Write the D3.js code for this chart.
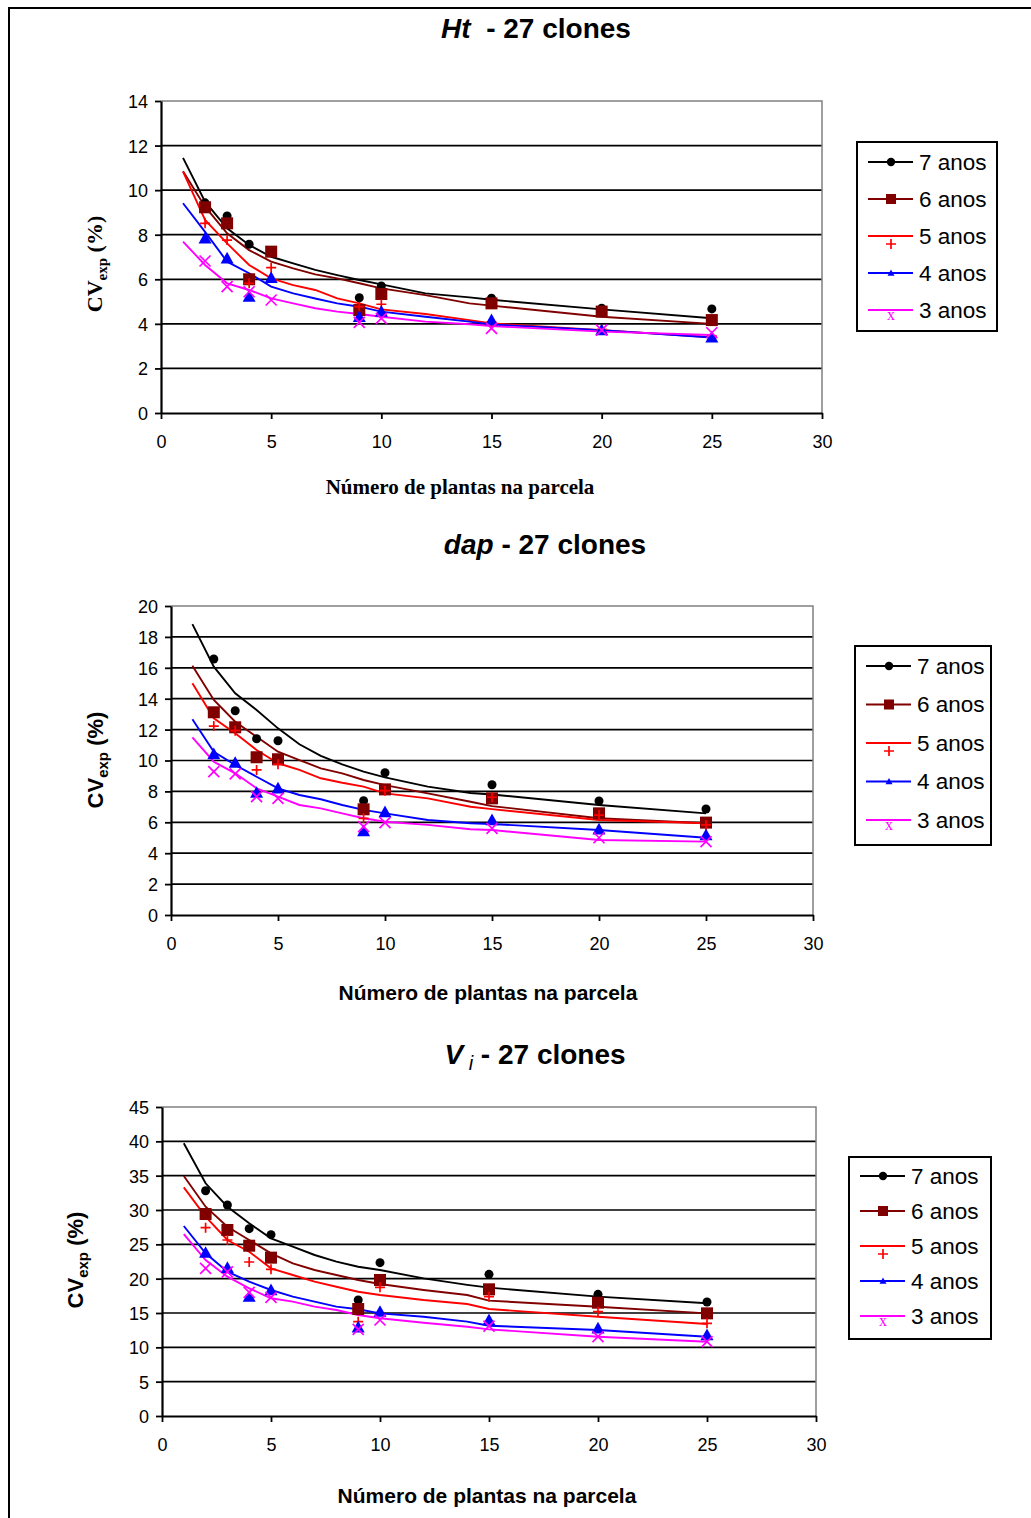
<!DOCTYPE html>
<html>
<head>
<meta charset="utf-8">
<script src="https://cdn.jsdelivr.net/npm/d3@7"></script>
<style>
  body { margin: 0; background: #fff; }
  svg text { font-family: "Liberation Sans", Arial, sans-serif; }
</style>
</head>
<body>
<svg id="chart" width="1031" height="1518"></svg>
<script>
// series (ages) shared by the three panels
const series = ["7 anos", "6 anos", "5 anos", "4 anos", "3 anos"];
// observed plot sizes and x values of the fitted curves
const obsX = [2, 3, 4, 5, 9, 10, 15, 20, 25];
const fitX = [1, 2, 3, 4, 5, 6, 7, 8, 9, 10, 12, 14, 15, 20, 25];
const xTicks = [0, 5, 10, 15, 20, 25, 30];

// Ht - observed CVexp, one row per series
const htObs = [
  [9.43, 8.84, 7.57, 7.25, 5.17, 5.70, 5.15, 4.70, 4.67],
  [9.23, 8.51, 6.00, 7.24, 4.62, 5.34, 4.92, 4.55, 4.17],
  [8.51, 7.76, 5.82, 6.52, 4.77, 4.88, 4.08, 3.75, 3.45],
  [7.84, 6.94, 5.22, 6.07, 4.32, 4.55, 4.17, 3.72, 3.40],
  [6.82, 5.67, 5.44, 5.07, 4.07, 4.25, 3.80, 3.72, 3.60]
];
// Ht - fitted curves
const htFit = [
  [11.45, 9.48, 8.29, 7.54, 7.01, 6.71, 6.42, 6.19, 5.97, 5.77, 5.37, 5.19, 5.08, 4.65, 4.25],
  [10.85, 9.26, 8.06, 7.31, 6.79, 6.49, 6.22, 6.04, 5.82, 5.59, 5.29, 4.92, 4.82, 4.32, 4.00],
  [10.83, 8.66, 7.61, 6.64, 6.04, 5.74, 5.52, 5.14, 4.92, 4.65, 4.44, 4.17, 4.02, 3.72, 3.40],
  [9.41, 8.13, 6.79, 6.27, 5.67, 5.37, 5.14, 4.92, 4.77, 4.55, 4.32, 4.10, 3.97, 3.72, 3.39],
  [7.69, 6.64, 5.82, 5.52, 5.14, 4.92, 4.70, 4.55, 4.44, 4.32, 4.10, 3.98, 3.90, 3.65, 3.50]
];
const htYTicks = [0, 2, 4, 6, 8, 10, 12, 14];

// dap
const dapObs = [
  [16.57, 13.22, 11.41, 11.28, 7.40, 9.21, 8.43, 7.38, 6.86],
  [13.12, 12.15, 10.21, 10.08, 6.84, 8.13, 7.55, 6.58, 5.98],
  [12.23, 11.93, 9.39, 9.75, 6.26, 8.05, 7.62, 6.47, 5.83],
  [10.42, 9.86, 7.92, 8.20, 5.44, 6.67, 6.15, 5.55, 5.18],
  [9.28, 9.13, 7.66, 7.55, 5.72, 5.98, 5.61, 5.00, 4.75]
];
const dapFit = [
  [18.83, 16.07, 14.35, 13.27, 12.08, 11.05, 10.30, 9.75, 9.28, 8.91, 8.31, 7.90, 7.80, 7.12, 6.58],
  [16.14, 13.92, 12.51, 11.54, 10.57, 10.03, 9.49, 9.17, 8.74, 8.41, 7.87, 7.33, 7.05, 6.26, 5.94],
  [15.00, 12.73, 11.76, 10.68, 9.82, 9.39, 8.85, 8.56, 8.31, 7.87, 7.55, 7.01, 6.85, 6.15, 5.94],
  [12.67, 10.57, 9.71, 8.95, 8.20, 7.77, 7.49, 7.12, 6.80, 6.58, 6.15, 5.94, 5.89, 5.50, 5.00],
  [11.50, 9.92, 9.17, 8.20, 7.66, 7.12, 6.90, 6.58, 6.26, 6.04, 5.83, 5.55, 5.50, 4.85, 4.75]
];
const dapYTicks = [0, 2, 4, 6, 8, 10, 12, 14, 16, 18, 20];

// Vi
const viObs = [
  [32.81, 30.73, 27.28, 26.41, 16.89, 22.33, 20.63, 17.72, 16.60],
  [29.42, 27.09, 24.80, 23.06, 15.58, 19.81, 18.45, 16.50, 14.95],
  [27.43, 25.63, 22.43, 21.36, 13.74, 18.74, 17.38, 15.20, 13.50],
  [23.79, 21.60, 17.38, 18.35, 12.91, 15.20, 13.98, 12.77, 11.80],
  [21.50, 21.00, 18.00, 17.28, 12.62, 13.98, 13.10, 11.55, 10.82]
];
const viFit = [
  [39.71, 33.89, 30.48, 28.06, 25.88, 24.66, 23.45, 22.47, 21.74, 21.26, 20.05, 19.10, 18.69, 17.38, 16.41],
  [34.95, 30.48, 27.57, 25.63, 23.69, 22.24, 21.26, 20.53, 19.81, 19.22, 18.35, 17.62, 16.80, 15.92, 14.95],
  [33.30, 29.03, 25.63, 23.93, 21.50, 20.53, 19.56, 18.83, 18.10, 17.62, 16.89, 16.31, 15.58, 14.46, 13.40],
  [27.67, 23.69, 21.02, 19.56, 18.35, 17.38, 16.65, 15.92, 15.54, 14.95, 14.46, 13.74, 13.15, 12.52, 11.55],
  [26.50, 22.72, 20.29, 18.60, 17.14, 16.65, 15.92, 15.44, 14.71, 14.23, 13.59, 13.00, 12.62, 11.55, 10.82]
];
const viYTicks = [0, 5, 10, 15, 20, 25, 30, 35, 40, 45];

const colors = ["#000000", "#800000", "#ff0000", "#0000ff", "#ff00ff"];
const markers = ["circle", "square", "plus", "triangle", "cross"];

const svg = d3.select("#chart");

// outer frame
svg.append("path")
  .attr("d", "M9,1518 V8 H1031")
  .attr("fill", "none")
  .attr("stroke", "#000")
  .attr("stroke-width", 2);

function drawMarker(g, type, cx, cy, color, legend) {
  if (type === "circle") {
    g.append("circle").attr("cx", cx).attr("cy", cy).attr("r", legend ? 4.2 : 4.5).attr("fill", color);
  } else if (type === "square") {
    const s = legend ? 10 : 12;
    g.append("rect").attr("x", cx - s / 2).attr("y", cy - s / 2).attr("width", s).attr("height", s).attr("fill", color);
  } else if (type === "plus") {
    const s = 5;
    g.append("path").attr("d", `M${cx - s},${cy} H${cx + s} M${cx},${cy - s} V${cy + s}`)
      .attr("stroke", color).attr("stroke-width", 1.7).attr("fill", "none");
  } else if (type === "triangle") {
    const s = legend ? 3.5 : 6.5;
    g.append("path").attr("d", `M${cx},${cy - s} L${cx + s},${cy + s * 0.8} L${cx - s},${cy + s * 0.8} Z`).attr("fill", color);
  } else if (type === "cross") {
    if (legend) {
      g.append("text").attr("x", cx).attr("y", cy + 4).attr("text-anchor", "middle")
        .style("font-family", "Liberation Serif, serif").style("font-size", "16px")
        .attr("fill", color).text("x");
    } else {
      const s = 5.5;
      g.append("path").attr("d", `M${cx - s},${cy - s} L${cx + s},${cy + s} M${cx - s},${cy + s} L${cx + s},${cy - s}`)
        .attr("stroke", color).attr("stroke-width", 1.7).attr("fill", "none");
    }
  }
}

function drawPanel(p) {
  const x = d3.scaleLinear().domain([0, 30]).range([p.left, p.right]);
  const y = d3.scaleLinear().domain([0, d3.max(p.yTicks)]).range([p.bottom, p.top]);
  const g = svg.append("g");

  // horizontal gridlines
  g.selectAll("line.grid")
    .data(p.yTicks.slice(1, -1))
    .enter().append("line")
    .attr("x1", p.left).attr("x2", p.right)
    .attr("y1", d => y(d)).attr("y2", d => y(d))
    .attr("stroke", "#000").attr("stroke-width", 1.7);

  // gray frame on top and right
  g.append("path")
    .attr("d", `M${p.left},${p.top} H${p.right} V${p.bottom}`)
    .attr("fill", "none").attr("stroke", "#808080").attr("stroke-width", 1.5);

  // axes
  const yAxis = g.append("g").attr("transform", `translate(${p.left},0)`)
    .call(d3.axisLeft(y).tickValues(p.yTicks).tickSize(6).tickSizeOuter(0).tickPadding(7));
  const xAxis = g.append("g").attr("transform", `translate(0,${p.bottom})`)
    .call(d3.axisBottom(x).tickValues(xTicks).tickSize(6).tickSizeOuter(0).tickPadding(16));
  [yAxis, xAxis].forEach(a => {
    a.select(".domain").attr("stroke", "#000").attr("stroke-width", 2.2);
    a.selectAll(".tick line").attr("stroke", "#000").attr("stroke-width", 1.8);
    a.selectAll("text").style("font-family", "Liberation Sans, Arial, sans-serif")
      .style("font-size", "18px").attr("fill", "#000");
  });
  yAxis.selectAll("text").attr("dy", "0.36em");

  // fitted curves
  const line = d3.line().x(d => x(d[0])).y(d => y(d[1]));
  p.fit.forEach((vals, i) => {
    g.append("path")
      .datum(fitX.map((xv, j) => [xv, vals[j]]))
      .attr("d", line)
      .attr("fill", "none")
      .attr("stroke", colors[i])
      .attr("stroke-width", 1.9);
  });

  // observed points
  p.obs.forEach((vals, i) => {
    vals.forEach((v, j) => drawMarker(g, markers[i], x(obsX[j]), y(v), colors[i], false));
  });

  // title
  const title = g.append("text")
    .attr("x", p.titleX).attr("y", p.titleY)
    .attr("text-anchor", "middle")
    .style("font-size", "28px").style("font-weight", "bold");
  p.title(title);

  // x axis title
  g.append("text")
    .attr("x", p.xTitleX).attr("y", p.xTitleY)
    .attr("text-anchor", "middle")
    .style("font-family", p.serif ? "Liberation Serif, serif" : "Liberation Sans, Arial, sans-serif")
    .style("font-size", "21px")
    .style("font-weight", "bold")
    .text("Número de plantas na parcela");

  // y axis title
  const yt = g.append("text")
    .attr("transform", `translate(${p.yTitleX},${p.yTitleY}) rotate(-90)`)
    .attr("text-anchor", "middle")
    .style("font-family", p.serif ? "Liberation Serif, serif" : "Liberation Sans, Arial, sans-serif")
    .style("font-size", "22px")
    .style("font-weight", "bold");
  yt.append("tspan").text("CV");
  yt.append("tspan").attr("dy", 5).style("font-size", "15px").text("exp");
  yt.append("tspan").attr("dy", -5).text(p.serif ? " (%)" : "  (%)");

  // legend
  const L = p.legend;
  const lg = g.append("g");
  lg.append("rect")
    .attr("x", L.x).attr("y", L.y).attr("width", L.w).attr("height", L.h)
    .attr("fill", "#fff").attr("stroke", "#000").attr("stroke-width", 2);
  series.forEach((s, i) => {
    const cy = L.y + L.first + i * L.step;
    lg.append("line")
      .attr("x1", L.x + 11).attr("x2", L.x + 56)
      .attr("y1", cy).attr("y2", cy)
      .attr("stroke", colors[i]).attr("stroke-width", 1.9);
    // the + and x markers sit a little below their legend line, as in the original
    const off = markers[i] === "plus" ? 8 : markers[i] === "cross" ? 6 : 0;
    drawMarker(lg, markers[i], L.x + 34, cy + off, colors[i], true);
    lg.append("text")
      .attr("x", L.x + 62).attr("y", cy).attr("dy", "0.35em")
      .style("font-size", "22.5px").attr("fill", "#000")
      .text(s);
  });
}

drawPanel({
  left: 161, right: 822, top: 101, bottom: 413,
  yTicks: htYTicks, obs: htObs, fit: htFit, serif: true,
  titleX: 536, titleY: 38,
  title: t => { t.append("tspan").style("font-style", "italic").text("Ht"); t.append("tspan").attr("xml:space", "preserve").text("  - 27 clones"); },
  xTitleX: 460, xTitleY: 494,
  yTitleX: 102, yTitleY: 264,
  legend: { x: 857, y: 142, w: 140, h: 189, first: 20, step: 37 }
});

drawPanel({
  left: 171, right: 813, top: 606, bottom: 915,
  yTicks: dapYTicks, obs: dapObs, fit: dapFit, serif: false,
  titleX: 545, titleY: 554,
  title: t => { t.append("tspan").style("font-style", "italic").text("dap"); t.append("tspan").text(" - 27 clones"); },
  xTitleX: 488, xTitleY: 1000,
  yTitleX: 103, yTitleY: 760,
  legend: { x: 855, y: 646, w: 136, h: 199, first: 20, step: 38.5 }
});

drawPanel({
  left: 162, right: 816, top: 1107, bottom: 1416,
  yTicks: viYTicks, obs: viObs, fit: viFit, serif: false,
  titleX: 535, titleY: 1064,
  title: t => {
    t.append("tspan").style("font-style", "italic").text("V");
    t.append("tspan").attr("dy", 6).style("font-style", "italic").style("font-weight", "normal").style("font-size", "20px").text(" i");
    t.append("tspan").attr("dy", -6).text("  - 27 clones");
  },
  xTitleX: 487, xTitleY: 1503,
  yTitleX: 83, yTitleY: 1260,
  legend: { x: 849, y: 1157, w: 142, h: 182, first: 19, step: 35 }
});
</script>
</body>
</html>
